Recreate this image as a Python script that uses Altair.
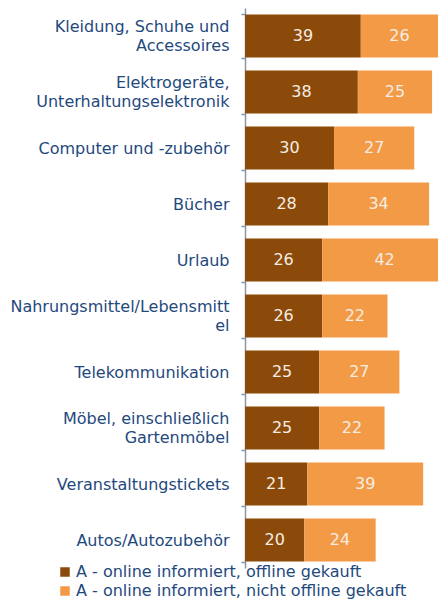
import altair as alt
import pandas as pd

categories = [
    "Kleidung, Schuhe und\nAccessoires",
    "Elektrogeräte,\nUnterhaltungselektronik",
    "Computer und -zubehör\u00a0",
    "Bücher",
    "Urlaub\u00a0",
    "Nahrungsmittel/Lebensmitt\nel",
    "Telekommunikation",
    "Möbel, einschließlich\nGartenmöbel",
    "Veranstaltungstickets",
    "Autos/Autozubehör",
]
offline = [39, 38, 30, 28, 26, 26, 25, 25, 21, 20]
not_offline = [26, 25, 27, 34, 42, 22, 27, 22, 39, 24]
series_names = [
    "A - online informiert, offline gekauft",
    "A - online informiert, nicht offline gekauft",
]
colors = ["#8C4A0A", "#F29A45"]

rows = []
for c, a, b in zip(categories, offline, not_offline):
    rows.append(dict(cat=c, series=series_names[0], value=a, start=0, end=a))
    rows.append(dict(cat=c, series=series_names[1], value=b, start=a, end=a + b))
df = pd.DataFrame(rows)
df["mid"] = (df["start"] + df["end"]) / 2

FONT = "DejaVu Sans"
FS = 16
TXT = "#1F497D"
AX = "#8C96A8"

y = alt.Y(
    "cat:N",
    sort=categories,
    scale=alt.Scale(paddingInner=0.23, paddingOuter=0.115),
    axis=alt.Axis(
        title=None,
        labelExpr="split(datum.label, '\\n')",
        labelFont=FONT,
        labelFontSize=FS,
        labelColor=TXT,
        labelLineHeight=19,
        labelPadding=12,
        labelLimit=400,
        labelOffset=alt.condition("indexof(datum.label, '\\n') >= 0", alt.value(-9.5), alt.value(0)),
        tickBand="extent",
        tickSize=4,
        tickWidth=1.5,
        tickColor=AX,
        domainColor=AX,
        domainWidth=1.5,
    ),
)
xs = alt.Scale(domain=[0, 65], nice=False, zero=True)

bars = alt.Chart(df).mark_bar(clip=True).encode(
    x=alt.X("start:Q", scale=xs, axis=None),
    x2="end:Q",
    y=y,
    color=alt.Color(
        "series:N",
        scale=alt.Scale(domain=series_names, range=colors),
        legend=alt.Legend(
            title=None,
            orient="none",
            legendX=-188,
            legendY=556,
            symbolType="square",
            symbolSize=90,
            symbolStrokeWidth=0,
            labelFont=FONT,
            labelFontSize=FS,
            labelColor=TXT,
            labelLimit=400,
            labelOffset=3,
            rowPadding=3,
            padding=0,
        ),
    ),
)

labels = alt.Chart(df).mark_text(
    font=FONT, fontSize=FS, color="#F5EDE3", baseline="middle", align="center"
).encode(
    x=alt.X("mid:Q", scale=xs, axis=None),
    y=y,
    text="value:Q",
)

chart = (
    alt.layer(bars, labels)
    .properties(
        width=193,
        height=560,
        autosize=alt.AutoSizeParams(type="none"),
        padding={"left": 237, "top": 0, "right": 1, "bottom": 41},
        background="white",
    )
    .configure_view(stroke=None)
)

chart.save("out.html", embed_options={"renderer": "svg", "actions": False})
